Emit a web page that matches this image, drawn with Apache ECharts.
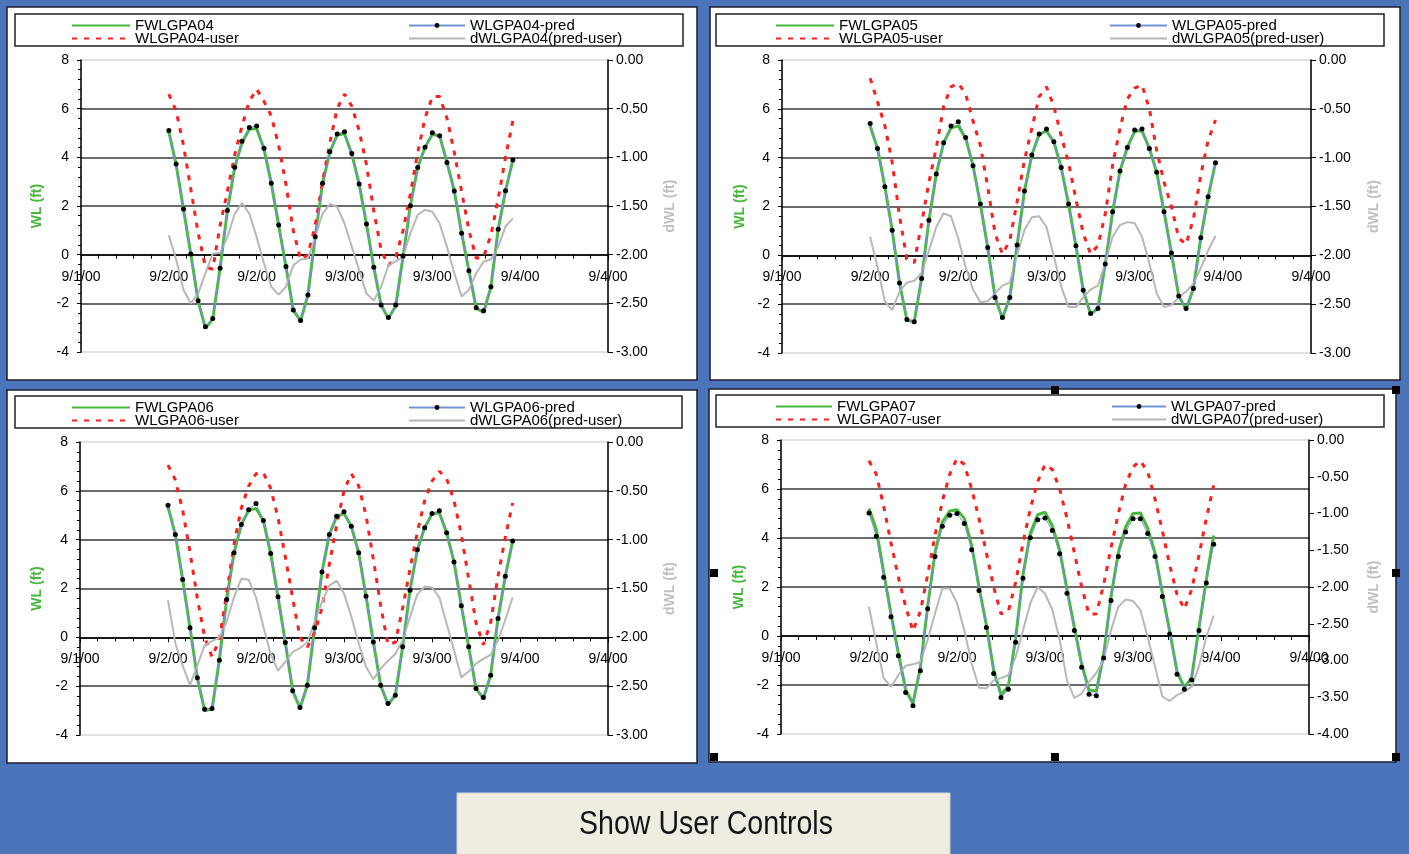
<!DOCTYPE html>
<html>
<head>
<meta charset="utf-8">
<script src="https://cdn.jsdelivr.net/npm/echarts@6/dist/echarts.min.js"></script>
<style>
html,body{margin:0;padding:0;background:#4b74bb;}
#c{width:1409px;height:854px;}
</style>
</head>
<body>
<div id="c"></div>
<script>
// ---------------- DATA ----------------
// hourly samples, hours after 9/2/00 00:00
const hoursFromStart = [0,1,2,3,4,5,6,7,8,9,10,11,12,13,14,15,16,17,18,19,20,21,22,23,24,25,26,27,28,29,30,31,32,33,34,35,36,37,38,39,40,41,42,43,44,45,46,47];
const stations = ['04','05','06','07'];

// WLGPA04
const fw04   = [5.05,3.70,1.88,0.03,-1.90,-3.02,-2.65,-0.56,1.80,3.58,4.62,5.15,5.18,4.35,2.93,1.22,-0.49,-2.28,-2.72,-1.66,0.74,2.93,4.22,4.92,4.97,4.14,2.90,1.26,-0.52,-2.07,-2.62,-2.10,-0.08,2.01,3.58,4.41,4.95,4.88,3.79,2.62,0.88,-0.66,-2.20,-2.38,-1.32,1.04,2.63,3.89];
const pred04 = [5.10,3.73,1.88,0.03,-1.89,-2.96,-2.62,-0.56,1.81,3.59,4.66,5.23,5.29,4.37,2.93,1.22,-0.49,-2.27,-2.71,-1.66,0.74,2.93,4.23,4.96,5.05,4.16,2.90,1.26,-0.52,-2.07,-2.58,-2.07,-0.05,2.01,3.58,4.41,5.01,4.89,3.79,2.62,0.88,-0.66,-2.18,-2.30,-1.32,1.04,2.63,3.89];
const user04 = [6.60,5.90,4.50,2.70,0.90,-0.50,-0.60,1.20,2.60,4.10,5.30,6.30,6.80,6.30,5.70,4.50,2.90,1.00,-0.20,0.00,1.20,3.00,4.60,6.00,6.60,6.10,5.10,3.70,1.80,0.20,-0.45,-0.10,1.00,2.50,4.20,5.60,6.50,6.50,5.60,4.20,2.60,1.00,-0.15,-0.10,0.80,2.30,4.00,5.50];
const dwl04  = [-1.80,-2.05,-2.36,-2.50,-2.40,-2.19,-1.99,-1.98,-1.82,-1.58,-1.47,-1.58,-1.82,-2.09,-2.33,-2.41,-2.33,-2.11,-2.05,-2.04,-1.82,-1.58,-1.48,-1.51,-1.68,-1.92,-2.16,-2.40,-2.47,-2.33,-2.11,-2.07,-2.02,-1.78,-1.59,-1.54,-1.56,-1.68,-1.92,-2.19,-2.43,-2.36,-2.19,-2.07,-2.05,-1.92,-1.71,-1.63];

// WLGPA05
const fw05   = [5.30,4.38,2.81,1.03,-1.13,-2.66,-2.72,-0.95,1.44,3.33,4.61,5.22,5.30,4.80,3.67,2.10,0.32,-1.73,-2.58,-1.73,0.42,2.63,4.11,4.95,5.10,4.65,3.60,2.10,0.39,-1.43,-2.40,-2.18,-0.36,1.78,3.45,4.42,5.08,5.10,4.38,3.40,1.78,0.10,-1.67,-2.22,-1.36,0.72,2.40,3.79];
const pred05 = [5.40,4.38,2.81,1.03,-1.13,-2.63,-2.72,-0.95,1.44,3.33,4.61,5.30,5.47,4.83,3.67,2.10,0.32,-1.73,-2.55,-1.73,0.42,2.63,4.11,4.97,5.17,4.65,3.60,2.10,0.39,-1.43,-2.38,-2.18,-0.36,1.78,3.45,4.42,5.13,5.17,4.38,3.40,1.78,0.10,-1.67,-2.18,-1.36,0.72,2.40,3.79];
const user05 = [7.25,6.30,5.30,3.80,1.60,-0.15,-0.30,1.30,3.00,4.40,6.10,6.90,7.05,6.60,5.50,4.50,2.80,0.90,0.05,0.60,2.20,3.90,5.20,6.50,6.90,6.10,4.90,3.80,2.30,0.90,0.05,0.40,1.70,3.70,5.20,6.40,6.85,6.98,6.00,4.30,3.00,2.00,0.70,0.45,1.50,3.30,4.70,5.54];
const dwl05  = [-1.81,-2.12,-2.47,-2.56,-2.37,-2.28,-2.26,-2.18,-1.95,-1.71,-1.57,-1.60,-1.83,-2.12,-2.35,-2.48,-2.47,-2.39,-2.31,-2.28,-2.00,-1.74,-1.61,-1.60,-1.71,-2.01,-2.32,-2.53,-2.53,-2.43,-2.35,-2.31,-2.08,-1.81,-1.69,-1.66,-1.67,-1.81,-2.08,-2.39,-2.53,-2.51,-2.43,-2.37,-2.29,-2.13,-1.95,-1.80];

// WLGPA06
const fw06   = [5.35,4.21,2.37,0.39,-1.66,-3.00,-2.95,-0.94,1.55,3.46,4.62,5.20,5.28,4.79,3.43,1.66,-0.21,-2.19,-2.90,-1.96,0.39,2.68,4.21,4.95,5.08,4.55,3.46,1.68,-0.19,-1.96,-2.75,-2.37,-0.39,1.93,3.59,4.49,5.05,5.10,4.28,3.09,1.29,-0.39,-2.10,-2.50,-1.55,0.77,2.50,3.95];
const pred06 = [5.41,4.21,2.37,0.39,-1.66,-2.95,-2.91,-0.94,1.55,3.46,4.62,5.23,5.48,4.79,3.43,1.66,-0.21,-2.19,-2.87,-1.96,0.39,2.68,4.21,4.96,5.14,4.55,3.46,1.68,-0.19,-1.96,-2.71,-2.37,-0.39,1.93,3.59,4.49,5.07,5.18,4.28,3.09,1.29,-0.39,-2.10,-2.46,-1.55,0.77,2.50,3.95];
const user06 = [7.05,6.45,5.20,3.50,1.60,0.00,-0.80,-0.10,1.80,3.80,5.30,6.20,6.70,6.75,6.10,4.90,3.30,1.60,0.00,-0.40,0.20,1.20,3.00,4.60,6.00,6.70,6.20,5.00,3.20,1.30,-0.30,-0.20,1.20,2.80,4.30,5.60,6.40,6.80,6.50,5.60,4.20,2.40,0.60,-0.30,0.60,2.50,4.10,5.50];
const dwl06  = [-1.62,-2.06,-2.29,-2.49,-2.29,-2.08,-2.04,-2.00,-1.84,-1.59,-1.40,-1.41,-1.59,-1.89,-2.17,-2.34,-2.25,-2.15,-2.11,-2.05,-1.84,-1.64,-1.47,-1.42,-1.55,-1.79,-2.06,-2.30,-2.43,-2.32,-2.24,-2.17,-2.03,-1.79,-1.56,-1.48,-1.49,-1.59,-1.86,-2.13,-2.41,-2.35,-2.27,-2.22,-2.18,-2.03,-1.82,-1.59];

// WLGPA07
const fw07   = [5.20,4.35,2.60,0.90,-0.70,-2.20,-2.75,-1.30,1.20,3.40,4.65,5.10,5.15,4.80,3.70,2.00,0.45,-1.40,-2.40,-2.05,-0.10,2.50,4.20,4.95,5.05,4.50,3.50,1.90,0.35,-1.15,-2.20,-2.25,-0.75,1.60,3.40,4.45,5.00,5.02,4.40,3.40,1.75,0.20,-1.45,-2.10,-1.70,0.35,2.30,4.10];
const pred07 = [5.02,4.07,2.40,0.79,-0.81,-2.31,-2.85,-1.42,1.11,3.25,4.48,4.93,5.00,4.59,3.52,1.86,0.35,-1.53,-2.51,-2.17,-0.26,2.36,4.01,4.75,4.82,4.31,3.36,1.75,0.22,-1.28,-2.38,-2.44,-0.90,1.45,3.25,4.25,4.79,4.79,4.18,3.25,1.61,0.08,-1.56,-2.17,-1.80,0.22,2.16,3.74];
const user07 = [7.15,6.60,5.30,3.80,2.40,1.20,0.20,1.00,2.50,4.10,5.50,6.60,7.25,7.00,6.00,4.80,3.40,2.00,0.90,1.00,2.20,3.80,5.20,6.30,7.00,6.80,6.00,4.80,3.40,2.00,0.90,0.90,2.10,3.60,5.00,6.20,6.90,7.15,6.70,5.60,4.30,2.90,1.70,1.10,1.90,3.30,4.80,6.15];
const dwl07  = [-2.27,-2.77,-3.24,-3.36,-3.20,-3.07,-3.05,-3.02,-2.72,-2.36,-2.02,-2.02,-2.22,-2.59,-3.04,-3.37,-3.38,-3.27,-3.24,-3.20,-2.95,-2.59,-2.22,-2.00,-2.09,-2.31,-2.72,-3.27,-3.51,-3.45,-3.29,-3.17,-2.99,-2.59,-2.27,-2.17,-2.19,-2.31,-2.68,-3.08,-3.49,-3.55,-3.47,-3.42,-3.36,-3.08,-2.68,-2.39];

const fwData   = [fw04, fw05, fw06, fw07];
const predData = [pred04, pred05, pred06, pred07];
const userData = [user04, user05, user06, user07];
const dwlData  = [dwl04, dwl05, dwl06, dwl07];

// axis ranges
const wlMin = -4, wlMax = 8, wlStep = 2;
const dwlMins = [-3, -3, -3, -4];
const dwlMax = 0, dwlStep = 0.5;

// ---------------- LAYOUT ----------------
const FONT = '"Liberation Sans", Arial, sans-serif';
const HOUR = 3600 * 1000;
const seriesStart = Date.UTC(2000, 8, 2, 0, 0);
const xMin = Date.UTC(2000, 8, 1, 12, 0);
const xMax = Date.UTC(2000, 8, 4, 12, 0);
const xStep = 12 * HOUR;

const layout = [
  {frame:[7,7,690,373],   box:[15,14,668,32],  legTop:18,  legL:71,  legLW:58, legR:408,  legRW:56, grid:[81,60,527,292],  lGap:37, rGap:55},
  {frame:[710,7,690,373], box:[716,14,668,32], legTop:18,  legL:775, legLW:58, legR:1109, legRW:57, grid:[782,60,529,293], lGap:35, rGap:56},
  {frame:[7,390,690,373], box:[15,396,667,32], legTop:400, legL:71,  legLW:58, legR:408,  legRW:56, grid:[80,442,528,293], lGap:36, rGap:55},
  {frame:[709,389,687,373], box:[716,395,668,32], legTop:399, legL:775, legLW:56, legR:1111, legRW:54, grid:[781,440,528,294], lGap:35, rGap:58}
];

const GREEN = '#48b83c', BLUE = '#7393d8', RED = '#ff1e1e', GRAY = '#b8b8b8';

function fmtDate(v) {
  const d = new Date(v);
  return (d.getUTCMonth() + 1) + '/' + d.getUTCDate() + '/00';
}
function toPairs(arr) {
  return arr.map((v, i) => [seriesStart + hoursFromStart[i] * HOUR, v]);
}

const grids = [], xAxes = [], yAxes = [], series = [], legends = [], graphics = [];

layout.forEach((L, i) => {
  const id = stations[i];
  const nFW = 'FWLGPA' + id, nPred = 'WLGPA' + id + '-pred', nUser = 'WLGPA' + id + '-user', nD = 'dWLGPA' + id + '(pred-user)';

  graphics.push({type:'rect', z:-10, silent:true, shape:{x:L.frame[0], y:L.frame[1], width:L.frame[2], height:L.frame[3]},
                 style:{fill:'#ffffff', stroke:'#1c1c2c', lineWidth:1.5}});
  graphics.push({type:'rect', z:-5, silent:true, shape:{x:L.box[0], y:L.box[1], width:L.box[2], height:L.box[3]},
                 style:{fill:'none', stroke:'#222222', lineWidth:1.5}});

  grids.push({left:L.grid[0], top:L.grid[1], width:L.grid[2], height:L.grid[3], show:true,
              borderColor:'#c4c4c4', borderWidth:1, backgroundColor:'transparent', containLabel:false});

  // x axis sits on WL = 0
  const zeroOffset = -L.grid[3] * (0 - wlMin) / (wlMax - wlMin);
  xAxes.push({
    type:'value', gridIndex:i, position:'bottom', offset:zeroOffset, min:xMin, max:xMax, interval:xStep,
    axisLine:{show:true, onZero:false, lineStyle:{color:'#000', width:1.5}},
    axisTick:{show:true, length:5, lineStyle:{color:'#000', width:1}},
    minorTick:{show:true, splitNumber:5, length:4, lineStyle:{color:'#000', width:1}},
    axisLabel:{formatter:fmtDate, fontSize:14, color:'#000', margin:15, fontFamily:FONT, showMinLabel:true, showMaxLabel:true, hideOverlap:false},
    splitLine:{show:false}
  });

  yAxes.push({
    type:'value', gridIndex:i, position:'left', min:wlMin, max:wlMax, interval:wlStep,
    name:'WL (ft)', nameLocation:'middle', nameRotate:90, nameGap:L.lGap,
    nameTextStyle:{color:GREEN, fontWeight:'bold', fontSize:14, fontFamily:FONT},
    axisLine:{show:true, onZero:false, lineStyle:{color:'#000', width:1.5}},
    axisTick:{show:true, length:4, lineStyle:{color:'#000'}},
    minorTick:{show:true, splitNumber:5, length:3, lineStyle:{color:'#000'}},
    axisLabel:{fontSize:14, color:'#000', margin:12, fontFamily:FONT},
    splitLine:{show:true, showMinLine:false, showMaxLine:false, lineStyle:{color:'#3a3a3a', width:1.5}}
  });
  yAxes.push({
    type:'value', gridIndex:i, position:'right', min:dwlMins[i], max:dwlMax, interval:dwlStep,
    name:'dWL (ft)', nameLocation:'middle', nameRotate:90, nameGap:L.rGap,
    nameTextStyle:{color:'#c0c0c0', fontWeight:'bold', fontSize:14, fontFamily:FONT},
    axisLine:{show:true, onZero:false, lineStyle:{color:'#000', width:1.5}},
    axisTick:{show:true, length:5, lineStyle:{color:'#000'}},
    axisLabel:{fontSize:14, color:'#000', margin:8, fontFamily:FONT, formatter:v => v.toFixed(2)},
    splitLine:{show:false}
  });

  const yl = i * 2, yr = i * 2 + 1;
  series.push({name:nFW, type:'line', xAxisIndex:i, yAxisIndex:yl, data:toPairs(fwData[i]), showSymbol:false, symbol:'none',
               lineStyle:{color:GREEN, width:3}, itemStyle:{color:GREEN}, z:2});
  series.push({name:nUser, type:'line', xAxisIndex:i, yAxisIndex:yl, data:toPairs(userData[i]), showSymbol:false, symbol:'none',
               lineStyle:{color:RED, width:3, type:[5,7]}, itemStyle:{color:RED}, z:3});
  series.push({name:nD, type:'line', xAxisIndex:i, yAxisIndex:yr, data:toPairs(dwlData[i]), showSymbol:false, symbol:'none',
               lineStyle:{color:GRAY, width:2}, itemStyle:{color:GRAY}, z:3});
  series.push({name:nPred, type:'line', xAxisIndex:i, yAxisIndex:yl, data:toPairs(predData[i]), symbol:'circle', symbolSize:5, showSymbol:true,
               lineStyle:{color:BLUE, width:1}, itemStyle:{color:'#000', borderWidth:0}, z:4});

  const legCommon = {orient:'vertical', itemGap:-2, itemHeight:6, padding:0, selectedMode:false,
                     textStyle:{fontSize:15, color:'#000', fontFamily:FONT}};
  const noDot = {opacity:0};
  legends.push(Object.assign({}, legCommon, {left:L.legL, top:L.legTop, itemWidth:L.legLW,
               data:[{name:nFW, itemStyle:noDot}, {name:nUser, itemStyle:noDot}]}));
  legends.push(Object.assign({}, legCommon, {left:L.legR, top:L.legTop, itemWidth:L.legRW,
               data:[{name:nPred}, {name:nD, itemStyle:noDot}]}));
});

// selection handles on the fourth chart (top-left one is not shown in the source)
const handlePts = [[1055,390],[1396,390],[714,573],[1396,573],[714,757],[1055,757],[1396,757]];
handlePts.forEach(p => {
  graphics.push({type:'rect', z:20, silent:true, shape:{x:p[0] - 4, y:p[1] - 4, width:8, height:8}, style:{fill:'#000'}});
});

// button
graphics.push({type:'rect', z:-5, silent:true, shape:{x:457, y:793, width:493, height:70},
               style:{fill:'#efece1', stroke:'#d4d1c4', lineWidth:1}});
graphics.push({type:'text', z:-4, silent:true, x:706, y:825, scaleX:0.84,
               style:{text:'Show User Controls', x:0, y:0, fill:'#151515', font:'34px "Liberation Sans", Arial, sans-serif',
                      align:'center', verticalAlign:'middle', textAlign:'center', textVerticalAlign:'middle'}});

const chart = echarts.init(document.getElementById('c'), null, {renderer:'canvas'});
chart.setOption({
  animation:false,
  backgroundColor:'#4b74bb',
  grid:grids, xAxis:xAxes, yAxis:yAxes, series:series, legend:legends,
  graphic:{elements:graphics}
});
</script>
</body>
</html>
